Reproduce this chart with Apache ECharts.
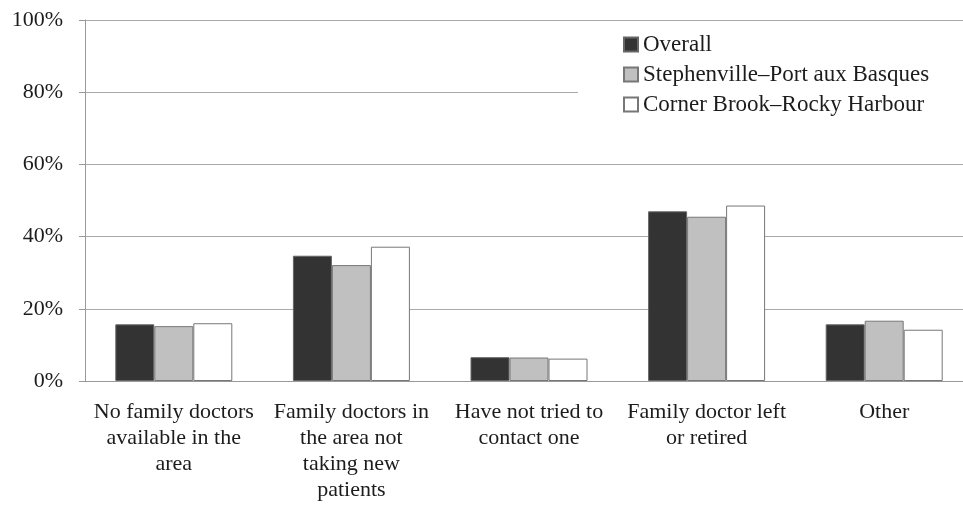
<!DOCTYPE html>
<html>
<head>
<meta charset="utf-8">
<script src="https://cdn.jsdelivr.net/npm/echarts@6/dist/echarts.min.js"></script>
<style>
  html, body { margin: 0; padding: 0; background: #fff; overflow: hidden; }
  #chart { width: 973px; height: 508px; }
</style>
</head>
<body>
<div id="chart"></div>
<script>
let categories = [
    'No family doctors\navailable in the\narea',
    'Family doctors in\nthe area not\ntaking new\npatients',
    'Have not tried to\ncontact one',
    'Family doctor left\nor retired',
    'Other'
];
let overall = [15.7, 34.7, 6.6, 47.0, 15.7];
let stephenville = [15.2, 32.1, 6.5, 45.5, 16.7];
let cornerBrook = [16.0, 37.2, 6.2, 48.6, 14.2];

let serif = 'Liberation Serif';
let textColor = '#1c1c1c';

let option = {
    animation: false,
    legend: {
        orient: 'vertical',
        left: 578,
        top: 22,
        padding: [11, 80, 10, 45],
        itemGap: 7,
        itemWidth: 14,
        itemHeight: 14,
        backgroundColor: '#fff',
        icon: 'rect',
        textStyle: { fontFamily: serif, fontSize: 23, color: textColor },
        data: ['Overall', 'Stephenville\u2013Port aux Basques', 'Corner Brook\u2013Rocky Harbour']
    },
    grid: {
        left: 85,
        top: 20,
        bottom: 127,
        right: 0
    },
    xAxis: {
        type: 'category',
        data: categories,
        axisLine: { lineStyle: { color: '#999' } },
        axisTick: { length: 6, lineStyle: { color: '#999' } },
        axisLabel: {
            interval: 0,
            margin: 18,
            fontFamily: serif,
            fontSize: 22,
            lineHeight: 26,
            color: textColor
        }
    },
    yAxis: {
        type: 'value',
        min: 0,
        max: 100,
        interval: 20,
        axisLine: { show: true, lineStyle: { color: '#999' } },
        axisTick: { show: true, length: 6, lineStyle: { color: '#999' } },
        splitLine: { lineStyle: { color: '#aaa' } },
        axisLabel: {
            formatter: '{value}%',
            margin: 22,
            fontFamily: serif,
            fontSize: 22,
            color: textColor
        }
    },
    series: [{
        name: 'Overall',
        type: 'bar',
        data: overall,
        barWidth: 39,
        barGap: '0%',
        itemStyle: { color: '#333333', borderColor: '#666', borderWidth: 1 }
    }, {
        name: 'Stephenville\u2013Port aux Basques',
        type: 'bar',
        data: stephenville,
        barWidth: 39,
        barGap: '0%',
        itemStyle: { color: '#c0c0c0', borderColor: '#777', borderWidth: 1 }
    }, {
        name: 'Corner Brook\u2013Rocky Harbour',
        type: 'bar',
        data: cornerBrook,
        barWidth: 39,
        barGap: '0%',
        itemStyle: { color: '#ffffff', borderColor: '#777', borderWidth: 1 }
    }]
};

let myChart = echarts.init(document.getElementById('chart'));
myChart.setOption(option);
</script>
</body>
</html>
